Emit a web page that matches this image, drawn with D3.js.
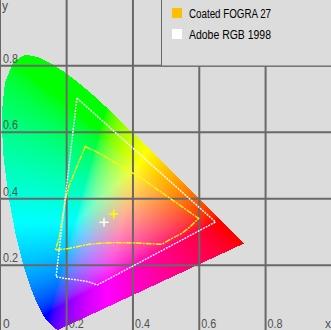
<!DOCTYPE html>
<html>
<head>
<meta charset="utf-8">
<script src="https://cdn.jsdelivr.net/npm/d3@7"></script>
<style>
  body { margin: 0; background: #dcdcdc; }
  svg { display: block; }
</style>
</head>
<body>
<svg id="chart" width="331" height="330"></svg>
<script>
// CIE 1931 2deg spectral locus (chromaticity x, y), 380..700 nm
const locusX = [0.1741, 0.1740, 0.1738, 0.1736, 0.1733, 0.1730, 0.1726, 0.1721, 0.1714, 0.1703,
  0.1689, 0.1669, 0.1644, 0.1611, 0.1566, 0.1510, 0.1440, 0.1355, 0.1241, 0.1096,
  0.0913, 0.0687, 0.0454, 0.0235, 0.0082, 0.0039, 0.0139, 0.0389, 0.0743, 0.1142,
  0.1547, 0.1929, 0.2296, 0.2658, 0.3016, 0.3373, 0.3731, 0.4087, 0.4441, 0.4788,
  0.5125, 0.5448, 0.5752, 0.6029, 0.6270, 0.6482, 0.6658, 0.6801, 0.6915, 0.7006,
  0.7079, 0.7140, 0.7190, 0.7230, 0.7260, 0.7283, 0.7300, 0.7311, 0.7320, 0.7334,
  0.7344, 0.7347];
const locusY = [0.0050, 0.0050, 0.0049, 0.0049, 0.0048, 0.0048, 0.0048, 0.0048, 0.0051, 0.0058,
  0.0069, 0.0086, 0.0109, 0.0138, 0.0177, 0.0227, 0.0297, 0.0399, 0.0578, 0.0868,
  0.1327, 0.2007, 0.2950, 0.4127, 0.5384, 0.6548, 0.7502, 0.8120, 0.8338, 0.8262,
  0.8059, 0.7816, 0.7543, 0.7243, 0.6923, 0.6589, 0.6245, 0.5896, 0.5547, 0.5202,
  0.4866, 0.4544, 0.4242, 0.3965, 0.3725, 0.3514, 0.3340, 0.3197, 0.3083, 0.2993,
  0.2920, 0.2859, 0.2809, 0.2770, 0.2740, 0.2717, 0.2700, 0.2689, 0.2680, 0.2666,
  0.2656, 0.2653];

// gamut outlines
const adobeX = [0.231, 0.168, 0.196, 0.236, 0.266, 0.292, 0.649];
const adobeY = [0.703, 0.165, 0.160, 0.155, 0.150, 0.140, 0.330];
const fograX = [0.256, 0.302, 0.422, 0.598, 0.573, 0.548, 0.513, 0.488, 0.401, 0.347, 0.302, 0.266,
  0.206, 0.176, 0.166, 0.178, 0.186, 0.196, 0.206, 0.228];
const fograY = [0.557, 0.535, 0.464, 0.341, 0.316, 0.296, 0.278, 0.263, 0.267, 0.268, 0.266, 0.263,
  0.250, 0.247, 0.245, 0.285, 0.336, 0.396, 0.436, 0.490];

// white points (FOGRA, Adobe)
const whiteX = [0.342, 0.3127];
const whiteY = [0.354, 0.329];

const ticks = [0.2, 0.4, 0.6, 0.8];
const legendLabels = ["Coated FOGRA 27", "Adobe RGB 1998"];
const legendSwatch = ["#ffbf00", "#ffffff"];
const outlineColors = ["#ffff00", "#ffffff"];

const W = 331, H = 330;
const svg = d3.select("#chart");

const xScale = d3.scaleLinear().domain([0, 1]).range([0.33, 331.9]);
const yScale = d3.scaleLinear().domain([0, 1]).range([331.6, -0.6]);

svg.append("rect").attr("width", W).attr("height", H).attr("fill", "#dcdcdc");

// colour fill of the horseshoe
const locusPx = locusX.map((x, i) => [xScale(x), yScale(locusY[i])]);

function chromaColor(x, y) {
  const X = x / y, Y = 1, Z = (1 - x - y) / y;
  let r = 3.2406 * X - 1.5372 * Y - 0.4986 * Z;
  let g = -0.9689 * X + 1.8758 * Y + 0.0415 * Z;
  let b = 0.0557 * X - 0.2040 * Y + 1.0570 * Z;
  r = Math.max(r, 0); g = Math.max(g, 0); b = Math.max(b, 0);
  const s = (r + g + b) / 2 || 1;
  return [r, g, b].map(v => Math.round(255 * Math.pow(Math.min(v / s, 1), 1 / 1.5)));
}

const canvas = document.createElement("canvas");
canvas.width = W; canvas.height = H;
const ctx = canvas.getContext("2d");
const img = ctx.createImageData(W, H);
for (let py = 0; py < H; py++) {
  for (let px = 0; px < W; px++) {
    const cx = px + 0.5, cy = py + 0.5;
    if (!d3.polygonContains(locusPx, [cx, cy])) continue;
    const c = chromaColor(xScale.invert(cx), yScale.invert(cy));
    const k = (py * W + px) * 4;
    img.data[k] = c[0]; img.data[k + 1] = c[1]; img.data[k + 2] = c[2]; img.data[k + 3] = 255;
  }
}
ctx.putImageData(img, 0, 0);
svg.append("image")
  .attr("width", W).attr("height", H)
  .attr("href", canvas.toDataURL());

// grid
const grid = svg.append("g").attr("stroke", "#696969").attr("stroke-width", 2);
grid.selectAll(".vx").data(ticks).join("line")
  .attr("x1", d => xScale(d)).attr("x2", d => xScale(d))
  .attr("y1", 0).attr("y2", H);
grid.selectAll(".hy").data(ticks).join("line")
  .attr("x1", 0).attr("x2", W)
  .attr("y1", d => yScale(d)).attr("y2", d => yScale(d));
svg.append("line").attr("x1", 0.5).attr("x2", 0.5).attr("y1", 0).attr("y2", H)
  .attr("stroke", "#696969").attr("stroke-width", 1);

// gamut outlines
const line = d3.line().x(d => xScale(d[0])).y(d => yScale(d[1])).curve(d3.curveLinearClosed);
const outlines = [
  { pts: fograX.map((x, i) => [x, fograY[i]]), color: outlineColors[0], dash: "6,1,2,1" },
  { pts: adobeX.map((x, i) => [x, adobeY[i]]), color: outlineColors[1], dash: "2,1" }
];
svg.selectAll(".outline").data(outlines).join("path")
  .attr("d", d => line(d.pts))
  .attr("fill", "none")
  .attr("stroke", d => d.color)
  .attr("stroke-width", 1.4)
  .attr("stroke-dasharray", d => d.dash);

// white point crosses
const cross = svg.selectAll(".cross").data(whiteX.map((x, i) => [x, whiteY[i], outlineColors[i]]))
  .join("g")
  .attr("transform", d => `translate(${xScale(d[0])},${yScale(d[1])})`)
  .attr("stroke", d => d[2]).attr("stroke-width", 1.5);
cross.append("line").attr("x1", -4.5).attr("x2", 4.5);
cross.append("line").attr("y1", -4.5).attr("y2", 4.5);

// tick labels
const lab = svg.append("g")
  .attr("font-family", "Liberation Sans, Arial, sans-serif")
  .attr("font-size", 12).attr("fill", "#505050");
lab.selectAll(".ty").data(ticks).join("text")
  .attr("x", 3).attr("y", d => yScale(d) - 3)
  .attr("textLength", 15).attr("lengthAdjust", "spacingAndGlyphs")
  .text(d => d3.format(".1f")(d));
lab.selectAll(".tx").data(ticks).join("text")
  .attr("x", d => xScale(d) + 2).attr("y", 328)
  .attr("textLength", 15).attr("lengthAdjust", "spacingAndGlyphs")
  .text(d => d3.format(".1f")(d));
lab.append("text").attr("x", 3).attr("y", 328).text("0");
lab.append("text").attr("x", 2).attr("y", 10).text("y");
lab.append("text").attr("x", 325).attr("y", 328).text("x");

// legend
svg.append("rect")
  .attr("x", 161.5).attr("y", -1).attr("width", 171).attr("height", 67)
  .attr("fill", "#dcdcdc").attr("stroke", "#696969").attr("stroke-width", 1);
const leg = svg.selectAll(".leg").data(legendLabels).join("g")
  .attr("transform", (d, i) => `translate(172,${8 + i * 21})`);
leg.append("rect").attr("width", 10).attr("height", 10)
  .attr("fill", (d, i) => legendSwatch[i]);
leg.append("text")
  .attr("x", 17).attr("y", 9.7)
  .attr("font-family", "Liberation Sans, Arial, sans-serif")
  .attr("font-size", 12).attr("fill", "#000")
  .attr("textLength", 82).attr("lengthAdjust", "spacingAndGlyphs")
  .text(d => d);
</script>
</body>
</html>
